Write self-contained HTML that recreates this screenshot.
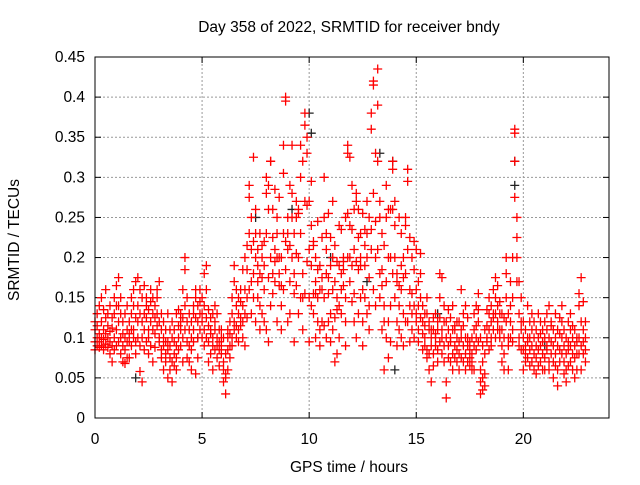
<!DOCTYPE html>
<html><head><meta charset="utf-8"><style>
body{margin:0;background:#fff}
svg text{font-family:"Liberation Sans",sans-serif;font-size:15.5px;fill:#000}
</style></head><body>
<svg id="chart" width="640" height="480" viewBox="0 0 640 480" xmlns="http://www.w3.org/2000/svg">
<rect x="0" y="0" width="640" height="480" fill="#fff"/>
<text x="349" y="32" text-anchor="middle">Day 358 of 2022, SRMTID for receiver bndy</text>
<text x="349" y="472" text-anchor="middle">GPS time / hours</text>
<text x="0" y="0" text-anchor="middle" transform="translate(19,240) rotate(-90)">SRMTID / TECUs</text>
<g id="grid"></g>
<g id="ticks"></g>
<g id="black"></g>
<g id="red"></g>
<rect x="95" y="57" width="514" height="361" fill="none" stroke="#000" stroke-width="1"/>
</svg>
<script>
const xTicks=[0,5,10,15,20];
const yTicks=[0,0.05,0.1,0.15,0.2,0.25,0.3,0.35,0.4,0.45];
const yTickLabels=["0","0.05","0.1","0.15","0.2","0.25","0.3","0.35","0.4","0.45"];
const startHour=0;
const binHours=0.1;
// SRMTID values (thousandths of TECU) per 0.1 h bin
const srmtid=[
[110,95,120,85],[100,130,90,115],[105,140,95,88],[120,100,150,90],[98,110,135,85],[105,125,92,160],[100,115,88,130],[95,108,140,80],[112,90,125,70],[100,150,130,85],
[140,110,165,90],[175,120,95,140],[130,100,80,150],[105,120,70,90],[100,85,130,68],[110,95,140,75],[95,120,75,105],[130,90,110,150],[140,110,100,160],[125,95,170,80],
[140,120,175,100],[160,130,90,58],[45,150,120,100],[130,165,110,85],[140,125,150,95],[135,110,100,80],[120,145,90,160],[150,130,110,70],[125,140,105,88],[130,150,115,160],
[120,170,95,100],[85,110,130,75],[90,60,100,120],[80,110,70,95],[95,50,130,85],[75,90,60,110],[70,100,45,120],[80,65,95,110],[90,130,75,60],[100,115,85,135],
[110,130,90,120],[100,160,70,125],[110,200,185,140],[120,95,75,150],[110,90,130,70],[100,120,85,60],[130,110,95,140],[150,160,125,55],[120,140,100,75],[130,145,160,110],
[120,100,130,150],[140,110,90,180],[190,125,100,160],[115,95,135,70],[105,80,125,110],[130,100,90,60],[120,85,110,140],[100,90,75,130],[95,110,85,65],[90,110,100,80],
[60,45,70,100],[55,30,50,80],[85,100,60,110],[105,90,120,75],[130,100,150,90],[120,190,170,110],[140,115,100,160],[130,110,95,150],[125,145,160,115],[140,185,120,100],
[130,200,90,160],[185,150,215,125],[230,275,290,160],[210,130,170,250],[325,180,220,150],[230,200,260,120],[190,150,210,170],[180,110,230,140],[200,130,175,215],[190,220,160,120],
[110,300,280,230],[290,175,260,95],[200,140,320,320],[260,180,225,155],[195,285,210,170],[200,230,120,250],[180,165,275,200],[200,110,165,140],[340,305,160,230],[400,220,185,395],
[230,250,210,120],[290,215,130,170],[340,200,250,280],[230,155,95,180],[165,250,270,205],[200,130,260,255],[340,300,150,230],[320,180,110,150],[365,380,155,270],[330,350,195,265],
[270,95,150,210],[295,240,140,190],[155,215,220,130],[170,200,155,100],[185,150,245,120],[160,110,190,90],[175,225,160,120],[300,150,250,115],[230,100,180,210],[175,120,255,155],
[130,225,190,95],[270,200,160,110],[215,125,170,70],[150,195,135,80],[240,190,140,100],[180,160,130,235],[200,165,195,185],[250,150,120,90],[340,330,255,200],[325,240,200,170],
[290,235,190,145],[210,155,120,260],[270,280,195,100],[260,225,185,130],[190,150,200,230],[255,120,160,90],[215,190,235,150],[270,230,130,200],[250,175,110,140],[380,360,235,210],
[420,415,280,160],[330,245,200,140],[435,390,320,210],[270,250,180,150],[165,230,185,110],[215,140,60,120],[290,250,170,100],[260,200,75,120],[140,200,260,95],[320,310,260,180],
[270,240,200,150],[180,90,170,120],[165,250,140,110],[230,190,160,100],[175,200,130,90],[240,250,180,120],[310,295,210,120],[225,160,95,140],[200,130,110,155],[220,185,100,140],
[130,210,120,160],[170,140,110,95],[205,125,180,150],[140,105,85,120],[100,90,115,130],[150,130,75,85],[120,110,80,60],[110,45,100,90],[125,80,65,110],[105,130,100,90],
[110,85,120,70],[150,180,125,95],[175,110,80,100],[120,90,70,140],[100,25,45,120],[110,75,90,135],[125,95,70,100],[140,110,80,60],[110,90,75,115],[120,85,100,70],
[95,80,120,60],[110,75,160,100],[130,90,70,115],[140,100,80,60],[100,125,70,90],[85,65,75,95],[60,70,100,80],[90,60,130,110],[115,140,85,100],[120,95,135,155],
[60,30,45,100],[50,35,70,90],[55,40,80,110],[115,135,100,95],[130,150,110,85],[140,120,100,90],[130,160,110,125],[150,130,175,100],[165,120,140,110],[130,110,145,100],
[110,90,130,70],[100,80,125,60],[200,180,150,120],[130,100,90,60],[120,170,140,100],[200,150,110,95],[360,355,320,275],[250,225,200,170],[170,130,100,90],[150,120,110,85],
[85,100,120,60],[90,80,110,70],[100,75,140,95],[85,120,65,100],[90,110,70,130],[80,100,60,120],[75,110,90,55],[100,130,85,65],[90,120,70,105],[60,95,110,80],
[100,120,75,60],[110,85,130,90],[100,70,140,60],[95,115,80,120],[70,90,50,110],[100,130,80,65],[40,60,90,110],[105,125,85,70],[140,100,80,120],[90,110,70,55],
[80,100,45,60],[85,120,65,95],[110,90,70,130],[100,80,60,115],[90,110,75,50],[80,100,60,95],[155,140,100,80],[175,120,90,60],[110,80,145,95],[100,85,120,70]
];
const blackTimes=[1.9,4.8,7.5,9.2,10.0,10.1,11.0,12.7,13.3,13.9,14.0,16.0,19.6,19.6,21.0];
const blackValues=[0.05,0.10,0.25,0.26,0.38,0.355,0.20,0.17,0.33,0.32,0.06,0.13,0.32,0.29,0.09];

const X0=95,X1=609,Y0=418,Y1=57,XMAX=24,YMAX=0.45;
const sx=t=>X0+(t/XMAX)*(X1-X0);
const sy=v=>Y0-(v/YMAX)*(Y0-Y1);
const NS="http://www.w3.org/2000/svg";
const grid=document.getElementById('grid'),ticks=document.getElementById('ticks');
function mk(tag,attrs,parent){const e=document.createElementNS(NS,tag);for(const k in attrs)e.setAttribute(k,attrs[k]);parent.appendChild(e);return e;}
xTicks.forEach(t=>{
  const x=sx(t);
  if(t>0){const g=mk('line',{x1:x,x2:x,y1:Y0,y2:Y1,stroke:'#999','stroke-dasharray':'2,2'},grid);
  
  }
  mk('line',{x1:x,x2:x,y1:Y0,y2:Y0-6,stroke:'#000'},ticks);
  mk('line',{x1:x,x2:x,y1:Y1,y2:Y1+6,stroke:'#000'},ticks);
  const l=mk('text',{x:x,y:Y0+26,'text-anchor':'middle'},ticks);l.textContent=String(t);
  
  
});
yTicks.forEach((v,i)=>{
  const y=sy(v);
  if(v>0&&v<YMAX){const g=mk('line',{x1:X0,x2:X1,y1:y,y2:y,stroke:'#999','stroke-dasharray':'2,2'},grid);
  
  }
  mk('line',{x1:X0,x2:X0+6,y1:y,y2:y,stroke:'#000'},ticks);
  mk('line',{x1:X1,x2:X1-6,y1:y,y2:y,stroke:'#000'},ticks);
  const l=mk('text',{x:X0-10,y:y+5,'text-anchor':'end'},ticks);l.textContent=yTickLabels[i];
  
  
});
function plus(x,y,col,parent){
  const p=mk('path',{d:`M${x-4.5},${y}h9M${x},${y-4.5}v9`,stroke:col,'stroke-width':1.3,fill:'none'},parent);
  
  
}
const blk=document.getElementById('black'),red=document.getElementById('red');
blackTimes.forEach((t,i)=>plus(sx(t),sy(blackValues[i]),'#222',blk));
srmtid.forEach((bin,i)=>{
  const t=startHour+i*binHours;
  bin.forEach(v=>plus(sx(t),sy(v/1000),'#f00',red));
});
</script>
</body></html>
